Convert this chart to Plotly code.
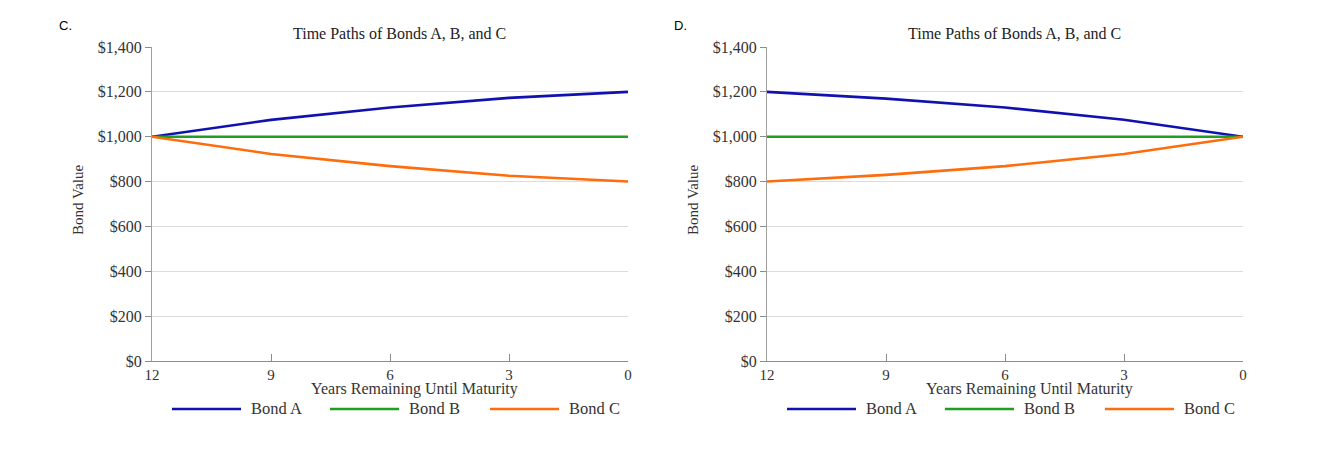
import plotly.graph_objects as go

years = [12, 9, 6, 3, 0]
x_ticks = [12, 9, 6, 3, 0]
y_ticks = [0, 200, 400, 600, 800, 1000, 1200, 1400]
y_tick_labels = ["$0", "$200", "$400", "$600", "$800", "$1,000", "$1,200", "$1,400"]

# Panel C
c_bond_a = [1000, 1075, 1130, 1173, 1200]
c_bond_b = [1000, 1000, 1000, 1000, 1000]
c_bond_c = [1000, 923, 869, 826, 800]
# Panel D
d_bond_a = [1200, 1170, 1130, 1076, 1000]
d_bond_b = [1000, 1000, 1000, 1000, 1000]
d_bond_c = [800, 830, 869, 923, 1000]

series_names = ["Bond A", "Bond B", "Bond C"]
colors = ["#1111b0", "#1f9e1f", "#ff6c0c"]
panel_labels = ["C.", "D."]
title_text = "Time Paths of Bonds A, B, and C"
x_title = "Years Remaining Until Maturity"
y_title = "Bond Value"

OFF = 8  # page body margin
W, H = 1327 - 2 * OFF, 459 - 2 * OFF
serif = "Times New Roman, Liberation Serif, serif"


def px(v):
    return (v - OFF) / W


def py(v):
    return (H - (v - OFF)) / H


fig = go.Figure()

panels = [
    ([c_bond_a, c_bond_b, c_bond_c], "x", "y", (152, 628)),
    ([d_bond_a, d_bond_b, d_bond_c], "x2", "y2", (767, 1243)),
]
ytop, ybot = 47, 361

for pi, (data, xa, ya, (x0, x1)) in enumerate(panels):
    for vals, name, col in zip(data, series_names, colors):
        fig.add_trace(go.Scatter(x=years, y=vals, mode="lines", name=name,
                                 line=dict(color=col, width=2.6),
                                 xaxis=xa, yaxis=ya, showlegend=False))
    dom_x = [px(x0), px(x1)]
    dom_y = [py(ybot), py(ytop)]
    xkey = "xaxis" if xa == "x" else "xaxis2"
    ykey = "yaxis" if ya == "y" else "yaxis2"
    fig.update_layout(**{
        xkey: dict(domain=dom_x, range=[12, 0], tickvals=x_ticks,
                   ticktext=[str(v) for v in x_ticks],
                   showgrid=False, zeroline=False, showline=True,
                   linecolor="#8c8c8c", linewidth=1,
                   ticks="inside", ticklen=7, tickcolor="#8c8c8c",
                   tickfont=dict(family=serif, size=15, color="#333"),
                   anchor=ya, fixedrange=True, automargin=False),
        ykey: dict(domain=dom_y, range=[0, 1400], tickvals=y_ticks,
                   ticktext=y_tick_labels,
                   showgrid=True, gridcolor="#dcdcdc", gridwidth=1,
                   zeroline=False, showline=True,
                   linecolor="#a0a0a0", linewidth=1,
                   ticks="outside", ticklen=6, tickcolor="#8c8c8c",
                   tickfont=dict(family=serif, size=16, color="#333"),
                   anchor=xa, fixedrange=True, automargin=False),
    })
    cx = (x0 + x1) / 2
    # panel label
    fig.add_annotation(text=panel_labels[pi], x=px(x0 - 95), y=py(26),
                       xref="paper", yref="paper", showarrow=False,
                       xanchor="left", yanchor="middle",
                       font=dict(family="Arial, Liberation Sans, sans-serif", size=13, color="#000"))
    # title
    fig.add_annotation(text=title_text, x=px(cx + 9), y=py(33),
                       xref="paper", yref="paper", showarrow=False,
                       xanchor="center", yanchor="middle",
                       font=dict(family=serif, size=16, color="#222"))
    # y title
    fig.add_annotation(text=y_title, x=px(x0 - 74), y=py(200),
                       xref="paper", yref="paper", showarrow=False, textangle=-90,
                       xanchor="center", yanchor="middle",
                       font=dict(family=serif, size=15, color="#333"))
    # x title
    fig.add_annotation(text=x_title, x=px(cx + 24), y=py(389),
                       xref="paper", yref="paper", showarrow=False,
                       xanchor="center", yanchor="middle",
                       font=dict(family=serif, size=16, color="#333"))
    # custom legend
    leg_starts = [x0 + 20, x0 + 178, x0 + 338]
    for ls, name, col in zip(leg_starts, series_names, colors):
        fig.add_shape(type="line", xref="paper", yref="paper",
                      x0=px(ls), x1=px(ls + 69), y0=py(409), y1=py(409),
                      line=dict(color=col, width=2.6))
        fig.add_annotation(text=name, x=px(ls + 77), y=py(408),
                           xref="paper", yref="paper", showarrow=False,
                           xanchor="left", yanchor="middle",
                           font=dict(family=serif, size=16.5, color="#333"))

fig.update_layout(width=W, height=H, margin=dict(l=0, r=0, t=0, b=0, autoexpand=False),
                  paper_bgcolor="white", plot_bgcolor="white", showlegend=False)

fig.write_html("out.html", config={"displayModeBar": False})
